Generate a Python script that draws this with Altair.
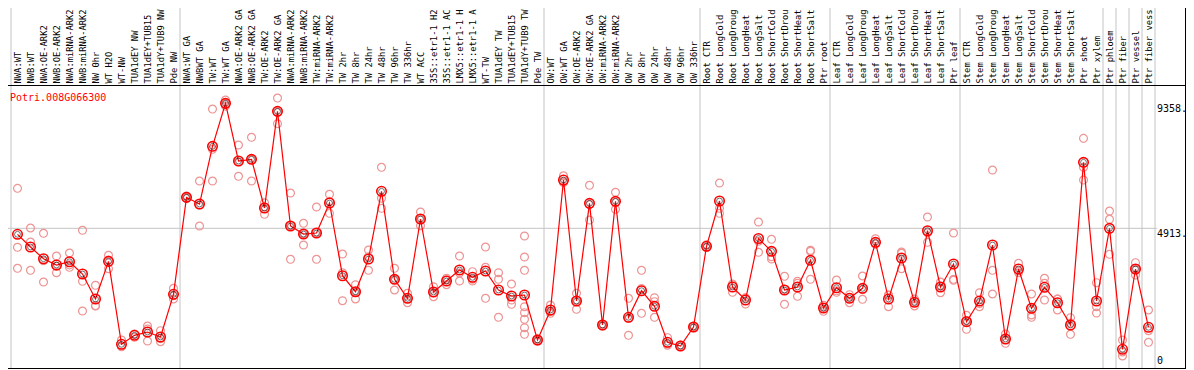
import json
import altair as alt
import pandas as pd

gene = "Potri.008G066300"

categories = [
    "NWA:WT", "NWB:WT", "NWA:OE-ARK2", "NWB:OE-ARK2", "NWA:miRNA-ARK2", "NWB:miRNA-ARK2",
    "NW 0hr", "WT H2O", "WT-NW", "TUA1dEY NW", "TUA1dEY+TUB15", "TUA1dY+TUB9 NW", "Pde NW",
    "NWA:WT GA", "NWBWT GA", "TW:WT", "TW:WT GA", "NWA:OE-ARK2 GA", "NWB:OE-ARK2 GA",
    "TW:OE-ARK2", "TW:OE-ARK2 GA", "NWA:miRNA-ARK2", "NWB:miRNA-ARK2", "TW:miRNA-ARK2",
    "TW:miRNA-ARK2", "TW 2hr", "TW 8hr", "TW 24hr", "TW 48hr", "TW 96hr", "TW 336hr",
    "WT ACC", "35S::etr1-1 H2", "35S::etr1-1 AC", "LMX5::etr1-1 H", "LMX5::etr1-1 A",
    "WT-TW", "TUA1dEY TW", "TUA1dEY+TUB15", "TUA1dY+TUB9 TW", "Pde TW",
    "OW:WT", "OW:WT GA", "OW:OE-ARK2", "OW:OE-ARK2 GA", "OW:miRNA-ARK2", "OW:miRNA-ARK2",
    "OW 2hr", "OW 8hr", "OW 24hr", "OW 48hr", "OW 96hr", "OW 336hr",
    "Root CTR", "Root LongCold", "Root LongDroug", "Root LongHeat", "Root LongSalt",
    "Root ShortCold", "Root ShortDrou", "Root ShortHeat", "Root ShortSalt", "Ptr root",
    "Leaf CTR", "Leaf LongCold", "Leaf LongDroug", "Leaf LongHeat", "Leaf LongSalt",
    "Leaf ShortCold", "Leaf ShortDrou", "Leaf ShortHeat", "Leaf ShortSalt", "Ptr leaf",
    "Stem CTR", "Stem LongCold", "Stem LongDroug", "Stem LongHeat", "Stem LongSalt",
    "Stem ShortCold", "Stem ShortDrou", "Stem ShortHeat", "Stem ShortSalt", "Ptr shoot",
    "Ptr xylem", "Ptr phloem", "Ptr fiber", "Ptr vessel", "Ptr fiber vess",
]

group_sizes = [13, 28, 12, 10, 10, 11, 1, 1, 1, 1]

means = [
    4700, 4248, 3832, 3608, 3725, 3288, 2399, 3739, 788, 1108, 1225, 1048, 2566,
    6015, 5777, 7829, 9358, 7306, 7367, 5635, 9073, 4995, 4710, 4746, 5813, 3227, 2658,
    3821, 6229, 3099, 2424, 5244, 2648, 3039, 3430, 3171, 3395, 2719, 2506, 2541, 941,
    2008, 6630, 2328, 5802, 1474, 5873, 1748, 2694, 2139, 859, 728, 1403,
    4273, 5884, 2826, 2363, 4550, 4095, 2719, 2826, 3775, 2079,
    2801, 2424, 2779, 4415, 2399, 3857, 2282, 4828, 2826, 3643,
    1592, 2328, 4319, 976, 3466, 2068, 2815, 2267, 1474, 7260, 2328,
    4913, 610, 3466, 1393,
]

replicates = [
    [6335, 4237, 3491], [4924, 4426, 3419], [4735, 3760, 3003], [3928, 3562, 3334],
    [4035, 3614, 3526], [4842, 3028, 1972], [2886, 2161, 2150], [3953, 3788, 3476],
    [941, 720, 703], [1154, 1133, 1037], [1439, 1331, 905], [1272, 990, 880],
    [2779, 2520, 2399],
    [6065, 6000, 5980], [6595, 5741, 4995], [9155, 7722, 6595], [9475, 9340, 9260],
    [7875, 7281, 6762], [8149, 7357, 6595], [5823, 5671, 5411], [9546, 9040, 8633],
    [6168, 5006, 3811], [5091, 4720, 4319], [5670, 4757, 3811], [6122, 5871, 5446],
    [3999, 3334, 2338], [2907, 2668, 2399], [4141, 3903, 3419], [7082, 5980, 5624],
    [3491, 3087, 2719], [2602, 2403, 2267], [5493, 5234, 5005], [2836, 2627, 2481],
    [3135, 3075, 2907], [3928, 3323, 3039], [3370, 3104, 3039], [4248, 3526, 2424],
    [3334, 3099, 1748], [2932, 2363, 2210],
    [4639, 3892, 3419, 2125, 1912, 1677, 1378, 1144], [985, 941, 900],
    [2186, 1950, 1890], [6783, 6570, 6537], [2602, 2349, 2033], [6442, 5756, 5208],
    [1510, 1474, 1440], [6193, 5837, 5589], [2424, 1712, 1108], [3419, 2773, 1890],
    [2445, 2303, 1748], [1023, 800, 755], [760, 725, 700], [1430, 1403, 1380],
    [4330, 4260, 4230], [6524, 5624, 5446], [2932, 2909, 2637], [2440, 2430, 2221],
    [5137, 4453, 4060], [4522, 3903, 3821], [3206, 2741, 2210], [3028, 2955, 2495],
    [4131, 4095, 3099], [2175, 2100, 1961],
    [3075, 2691, 2637], [2552, 2453, 2267], [3217, 2732, 2388], [4543, 4350, 4350],
    [2541, 2531, 2125], [4070, 4025, 3476], [2399, 2297, 2150], [5315, 4754, 4415],
    [3003, 2852, 2623], [4746, 3099, 3064],
    [1819, 1636, 1321], [2623, 2236, 2125], [6986, 3419, 2577], [1154, 950, 824],
    [3668, 3396, 3334], [2577, 1830, 1748], [3135, 2957, 2363], [2399, 2394, 2008],
    [1734, 1544, 1144], [8113, 7082, 6630], [2979, 2125, 1901],
    [5528, 5233, 3988], [941, 517, 372], [3690, 3456, 3252], [2008, 1272, 859],
]

axis_top_labels = [9358, 4913]
axis_bottom_labels = [0]
grid_value = [4913]

FONT = "DejaVu Sans Mono"
PLOT_W = 1144
PLOT_H = 284
TOP_PAD = 77
LEFT_PAD = 3
SVG_W = 1178
RIGHT_PAD = SVG_W - LEFT_PAD - PLOT_W
RIGHT_EDGE = SVG_W - LEFT_PAD - 0.5

idx = list(range(len(categories)))
mean_df = pd.DataFrame({"i": idx, "v": means})
rep_df = pd.DataFrame([{"i": i, "v": v} for i, vals in enumerate(replicates) for v in vals])

bounds = [-0.5]
acc = 0
for g in group_sizes:
    acc += g
    bounds.append(acc - 0.5)
bound_df = pd.DataFrame({"i": bounds})

xscale = alt.Scale(domain=[-0.5, len(categories) - 0.5], nice=False, zero=False)
yscale = alt.Scale(domain=[-90, 10010], nice=False, zero=False)

label_expr = json.dumps(categories) + "[datum.value]"

x_axis = alt.Axis(
    orient="top", values=idx, labelExpr=label_expr, labelAngle=270,
    labelAlign="left", labelBaseline="middle", labelPadding=2, labelLimit=400,
    labelFont=FONT, labelFontSize=8.8, labelColor="#000000", labelOverlap=False,
    labelBound=False, labelFlush=False,
    ticks=False, domain=False, grid=False, title=None,
)


def X():
    return alt.X("i:Q", scale=xscale, axis=x_axis)


def Y():
    return alt.Y("v:Q", scale=yscale, axis=None)


vgrid = alt.Chart(bound_df).mark_rule(color="#c4c4c4", strokeWidth=1).encode(
    x=X(), y=alt.value(-TOP_PAD), y2=alt.value(PLOT_H),
)

hgrid = alt.Chart(pd.DataFrame({"v": grid_value})).mark_rule(color="#c4c4c4", strokeWidth=1).encode(
    y=Y(), x=alt.value(-10), x2=alt.value(PLOT_W + 2),
)

frame_df = pd.DataFrame({"k": [0]})
top_line = alt.Chart(frame_df).mark_rule(color="#000000", strokeWidth=1).encode(
    x=alt.value(-10), x2=alt.value(RIGHT_EDGE), y=alt.value(0.5)
)
bottom_line = alt.Chart(frame_df).mark_rule(color="#000000", strokeWidth=1).encode(
    x=alt.value(-10), x2=alt.value(RIGHT_EDGE), y=alt.value(PLOT_H - 0.5)
)
right_line = alt.Chart(frame_df).mark_rule(color="#000000", strokeWidth=1).encode(
    x=alt.value(RIGHT_EDGE), y=alt.value(-TOP_PAD), y2=alt.value(PLOT_H)
)

reps = alt.Chart(rep_df).mark_point(
    shape="circle", filled=False, color="#ee9494", size=62, strokeWidth=1.2, opacity=1
).encode(x=X(), y=Y())

line = alt.Chart(mean_df).mark_line(color="#ff0000", strokeWidth=1.2).encode(x=X(), y=Y())

mean_outer = alt.Chart(mean_df).mark_point(
    shape="circle", filled=False, color="#ff0000", size=90, strokeWidth=1.6, opacity=1
).encode(x=X(), y=Y())

mean_inner = alt.Chart(mean_df).mark_point(
    shape="circle", filled=False, color="#000000", size=34, strokeWidth=0.8, opacity=0.7
).encode(x=X(), y=Y())

gene_label = alt.Chart(pd.DataFrame({"t": [gene]})).mark_text(
    font=FONT, fontSize=10, color="#ff0000", align="left", baseline="alphabetic"
).encode(text="t:N", x=alt.value(-1), y=alt.value(15.5))

ylab_top = alt.Chart(pd.DataFrame({"v": axis_top_labels})).transform_calculate(
    t="datum.v + '.'"
).mark_text(font=FONT, fontSize=10, color="#000000", align="left", baseline="top", dy=1).encode(
    x=alt.value(PLOT_W + 2), y=Y(), text="t:N"
)

ylab_bottom = alt.Chart(pd.DataFrame({"v": axis_bottom_labels})).mark_text(
    font=FONT, fontSize=10, color="#000000", align="left", baseline="bottom"
).encode(x=alt.value(PLOT_W + 2), y=Y(), text="v:N")

chart = alt.layer(
    vgrid, hgrid, top_line, bottom_line, right_line, reps, line, mean_outer, mean_inner,
    gene_label, ylab_top, ylab_bottom,
).properties(
    width=PLOT_W, height=PLOT_H,
    padding={"left": LEFT_PAD, "top": TOP_PAD, "right": RIGHT_PAD, "bottom": 1},
    autosize=alt.AutoSizeParams(type="none"),
    background="#ffffff",
).configure_view(stroke=None)

chart.save("out.html", embed_options={"renderer": "svg", "actions": False})
